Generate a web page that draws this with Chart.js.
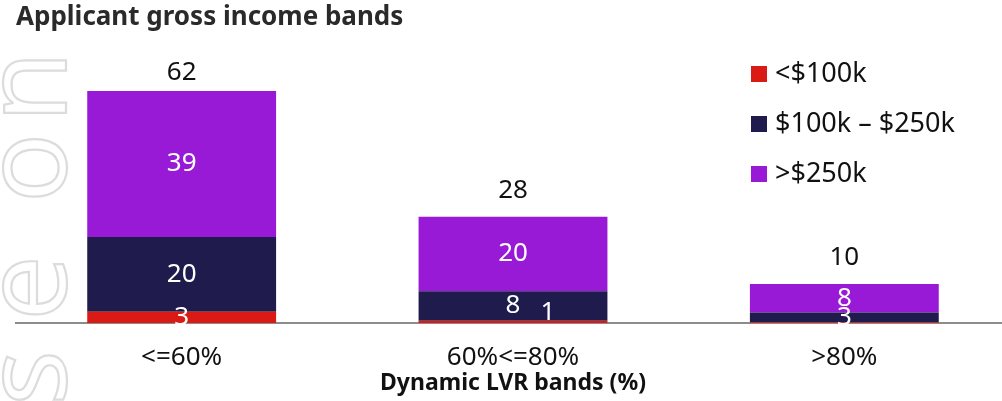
<!DOCTYPE html>
<html>
<head>
<meta charset="utf-8">
<script src="https://cdn.jsdelivr.net/npm/chart.js@4"></script>
<style>
  html, body { margin: 0; padding: 0; background: #fff; overflow: hidden; }
  #wrap { width: 1002px; height: 401px; overflow: hidden; }
</style>
</head>
<body>
<div id="wrap"><canvas id="myChart" width="1010" height="401"></canvas></div>
<script>
// chart data
const categories = ["<=60%", "60%<=80%", ">80%"];
const seriesNames = ["<$100k", "$100k \u2013 $250k", ">$250k"];
const under100k = [3, 0.6, 0.2];
const from100to250k = [20, 7.9, 2.6];
const over250k = [39, 19.9, 7.6];
const totals = [62, 28, 10];
const colours = ["#DA1A14", "#1F1C4D", "#981AD6"];

const FONT = "'Noto Sans', 'Open Sans', sans-serif";

// faint outlined watermark letters down the left edge
const watermark = {
  id: "watermark",
  beforeDraw(chart) {
    const ctx = chart.ctx;
    const letters = [["s", 378], ["e", 288], ["o", 168], ["n", 87]];
    ctx.save();
    ctx.font = "116px " + FONT;
    ctx.strokeStyle = "#dcdcdc";
    ctx.lineWidth = 2.2;
    ctx.textAlign = "center";
    ctx.textBaseline = "alphabetic";
    letters.forEach(([ch, cy]) => {
      ctx.save();
      ctx.translate(66, cy);
      ctx.rotate(-Math.PI / 2);
      ctx.strokeText(ch, 0, 0);
      ctx.restore();
    });
    ctx.restore();
  }
};

// segment values + totals
const barLabels = {
  id: "barLabels",
  afterDatasetsDraw(chart) {
    const ctx = chart.ctx;
    ctx.save();
    ctx.font = "26px " + FONT;
    ctx.textAlign = "center";
    ctx.textBaseline = "middle";
    ctx.fillStyle = "#fff";
    chart.data.datasets.forEach((ds, di) => {
      const meta = chart.getDatasetMeta(di);
      meta.data.forEach((bar, i) => {
        const v = Math.round(ds.data[i]);
        if (v === 0) return;
        const h = bar.base - bar.y;
        if (h < 5) {
          ctx.fillText(v, bar.x + 35, bar.base - 10);
        } else {
          ctx.fillText(v, bar.x, (bar.y + bar.base) / 2);
        }
      });
    });
    const top = chart.getDatasetMeta(chart.data.datasets.length - 1);
    ctx.fillStyle = "#111";
    ctx.textBaseline = "alphabetic";
    top.data.forEach((bar, i) => {
      const y = Math.max(bar.y - 19, chart.chartArea.top + 19);
      ctx.fillText(totals[i], bar.x, y);
    });
    ctx.restore();
  }
};

// legend sitting inside the plot, top right
const boxLegend = {
  id: "boxLegend",
  afterDraw(chart) {
    const ctx = chart.ctx;
    ctx.save();
    ctx.font = "27px " + FONT;
    ctx.textBaseline = "middle";
    ctx.textAlign = "left";
    chart.data.datasets.forEach((ds, i) => {
      const y = 66 + i * 50;
      ctx.fillStyle = ds.backgroundColor;
      ctx.fillRect(751, y, 16, 16);
      ctx.fillStyle = "#111";
      ctx.fillText(ds.label, 775, y + 8);
    });
    ctx.restore();
  }
};

const ctx = document.getElementById("myChart").getContext("2d");
const chart = new Chart(ctx, {
  type: "bar",
  data: {
    labels: [...categories],
    datasets: [
      { label: seriesNames[0], data: [...under100k], backgroundColor: colours[0] },
      { label: seriesNames[1], data: [...from100to250k], backgroundColor: colours[1] },
      { label: seriesNames[2], data: [...over250k], backgroundColor: colours[2] }
    ]
  },
  options: {
    responsive: false,
    animation: false,
    layout: { padding: { left: 16, right: 0, top: 0, bottom: 4 } },
    datasets: {
      bar: { categoryPercentage: 1, barPercentage: 0.57, borderWidth: 0 }
    },
    plugins: {
      legend: { display: false },
      tooltip: { enabled: false },
      title: {
        display: true,
        text: "Applicant gross income bands",
        align: "start",
        color: "#2a2a2a",
        font: { family: FONT, size: 26, weight: "bold" },
        padding: { top: 2, bottom: 28 }
      }
    },
    scales: {
      x: {
        stacked: true,
        grid: { display: false },
        border: { display: true, color: "#8c8c8c", width: 2 },
        ticks: { color: "#111", font: { family: FONT, size: 26 }, padding: 11 },
        title: {
          display: true,
          text: "Dynamic LVR bands (%)",
          color: "#111",
          font: { family: FONT, size: 23, weight: "bold" },
          padding: { top: 0, bottom: 0 }
        },
        afterFit(scale) { scale.height = 74; }
      },
      y: {
        stacked: true,
        display: false,
        min: 0,
        max: 70
      }
    }
  },
  plugins: [watermark, barLabels, boxLegend]
});
</script>
</body>
</html>
